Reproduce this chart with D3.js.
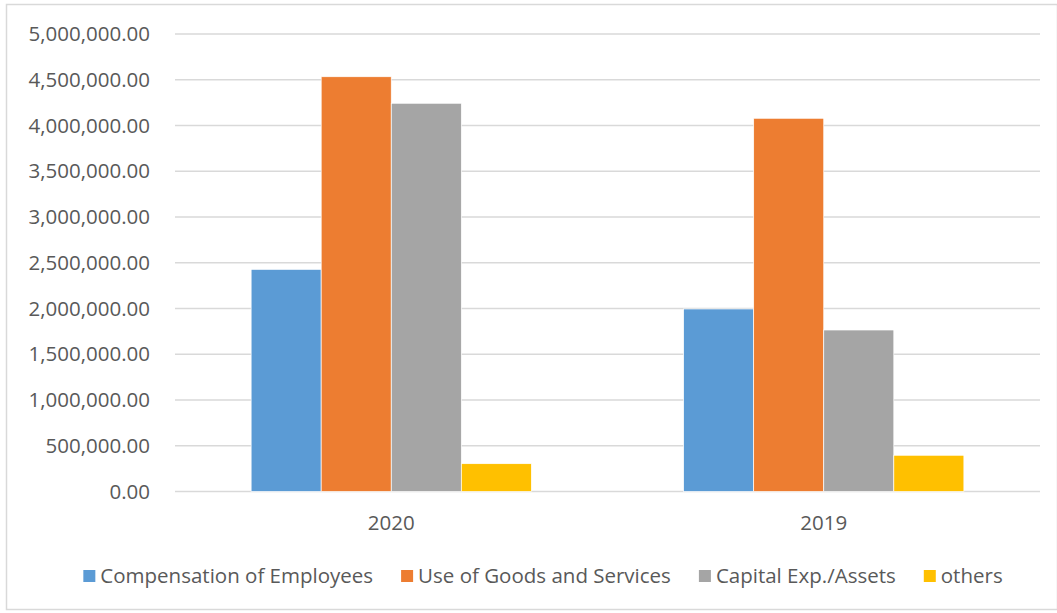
<!DOCTYPE html>
<html>
<head>
<meta charset="utf-8">
<script src="https://cdn.jsdelivr.net/npm/d3@7"></script>
<style>
  body { margin: 0; background: #fff; }
  svg text { font-family: "Open Sans", sans-serif; fill: #595959; }
</style>
</head>
<body>
<div id="chart"></div>
<script>
const years = [`2020`, `2019`];
const seriesNames = [`Compensation of Employees`, `Use of Goods and Services`, `Capital Exp./Assets`, `others`];
const compensation = [2428000, 1995000];
const goodsServices = [4533000, 4079000];
const capitalExp = [4243000, 1765000];
const others = [304000, 396000];
const yTicks = [0, 500000, 1000000, 1500000, 2000000, 2500000, 3000000, 3500000, 4000000, 4500000, 5000000];
const colors = [`#5B9BD5`, `#ED7D31`, `#A5A5A5`, `#FFC000`];

const allSeries = [compensation, goodsServices, capitalExp, others];
const data = years.map((y, i) => ({year: y, values: allSeries.map(s => s[i])}));

const width = 1057;
const height = 613;
const margin = {top: 34, right: 17, bottom: 121.5, left: 175};
const innerWidth = width - margin.left - margin.right;
const innerHeight = height - margin.top - margin.bottom;
const fontSize = `20.5px`;

const svg = d3.select(`#chart`).append(`svg`)
  .attr(`width`, width)
  .attr(`height`, height);

// chart border
svg.append(`rect`)
  .attr(`x`, 6.5).attr(`y`, 4.5)
  .attr(`width`, width - 6).attr(`height`, height - 8)
  .attr(`fill`, `none`)
  .attr(`stroke`, `#d9d9d9`)
  .attr(`stroke-width`, 1.5);

const g = svg.append(`g`)
  .attr(`transform`, `translate(${margin.left},${margin.top})`);

const x0 = d3.scaleBand()
  .domain(years)
  .range([0, innerWidth])
  .paddingInner(0)
  .paddingOuter(0);

const groupWidth = x0.bandwidth() * 0.648;
const x1 = d3.scaleBand()
  .domain(d3.range(seriesNames.length))
  .range([0, groupWidth]);

const y = d3.scaleLinear()
  .domain([0, 5000000])
  .range([innerHeight, 0]);

const fmt = d3.format(`,.2f`);

// gridlines
g.append(`g`)
  .selectAll(`line`)
  .data(yTicks)
  .enter().append(`line`)
    .attr(`x1`, 0)
    .attr(`x2`, innerWidth)
    .attr(`y1`, d => y(d))
    .attr(`y2`, d => y(d))
    .attr(`stroke`, `#d9d9d9`)
    .attr(`stroke-width`, 1.5);

// y axis labels
g.append(`g`)
  .selectAll(`text`)
  .data(yTicks)
  .enter().append(`text`)
    .attr(`x`, -25)
    .attr(`y`, d => y(d))
    .attr(`dy`, `0.35em`)
    .attr(`text-anchor`, `end`)
    .style(`font-size`, fontSize)
    .text(d => fmt(d));

// bars
const groups = g.selectAll(`.year`)
  .data(data)
  .enter().append(`g`)
    .attr(`class`, `year`)
    .attr(`transform`, d => `translate(${x0(d.year) + (x0.bandwidth() - groupWidth) / 2},0)`);

groups.selectAll(`rect`)
  .data(d => d.values)
  .enter().append(`rect`)
    .attr(`x`, (d, i) => x1(i))
    .attr(`y`, d => y(d))
    .attr(`width`, x1.bandwidth())
    .attr(`height`, d => innerHeight - y(d))
    .attr(`fill`, (d, i) => colors[i])
    .attr(`stroke`, `#fff`)
    .attr(`stroke-width`, 0.7);

// x axis labels
g.append(`g`)
  .selectAll(`text`)
  .data(years)
  .enter().append(`text`)
    .attr(`x`, d => x0(d) + x0.bandwidth() / 2)
    .attr(`y`, innerHeight + 31)
    .attr(`dy`, `0.35em`)
    .attr(`text-anchor`, `middle`)
    .style(`font-size`, fontSize)
    .text(d => d);

// legend
const legend = svg.append(`g`);
const items = legend.selectAll(`g`)
  .data(seriesNames)
  .enter().append(`g`);

items.append(`rect`)
  .attr(`width`, 12)
  .attr(`height`, 12)
  .attr(`y`, -6)
  .attr(`fill`, (d, i) => colors[i]);

items.append(`text`)
  .attr(`x`, 17)
  .attr(`dy`, `0.35em`)
  .style(`font-size`, fontSize)
  .text(d => d);

const gap = 28;
let offset = 0;
const positions = [];
items.each(function() {
  positions.push(offset);
  offset += this.getBBox().width + gap;
});
const total = offset - gap;
const startX = 543 - total / 2;
items.attr(`transform`, (d, i) => `translate(${startX + positions[i]},576)`);
</script>
</body>
</html>
